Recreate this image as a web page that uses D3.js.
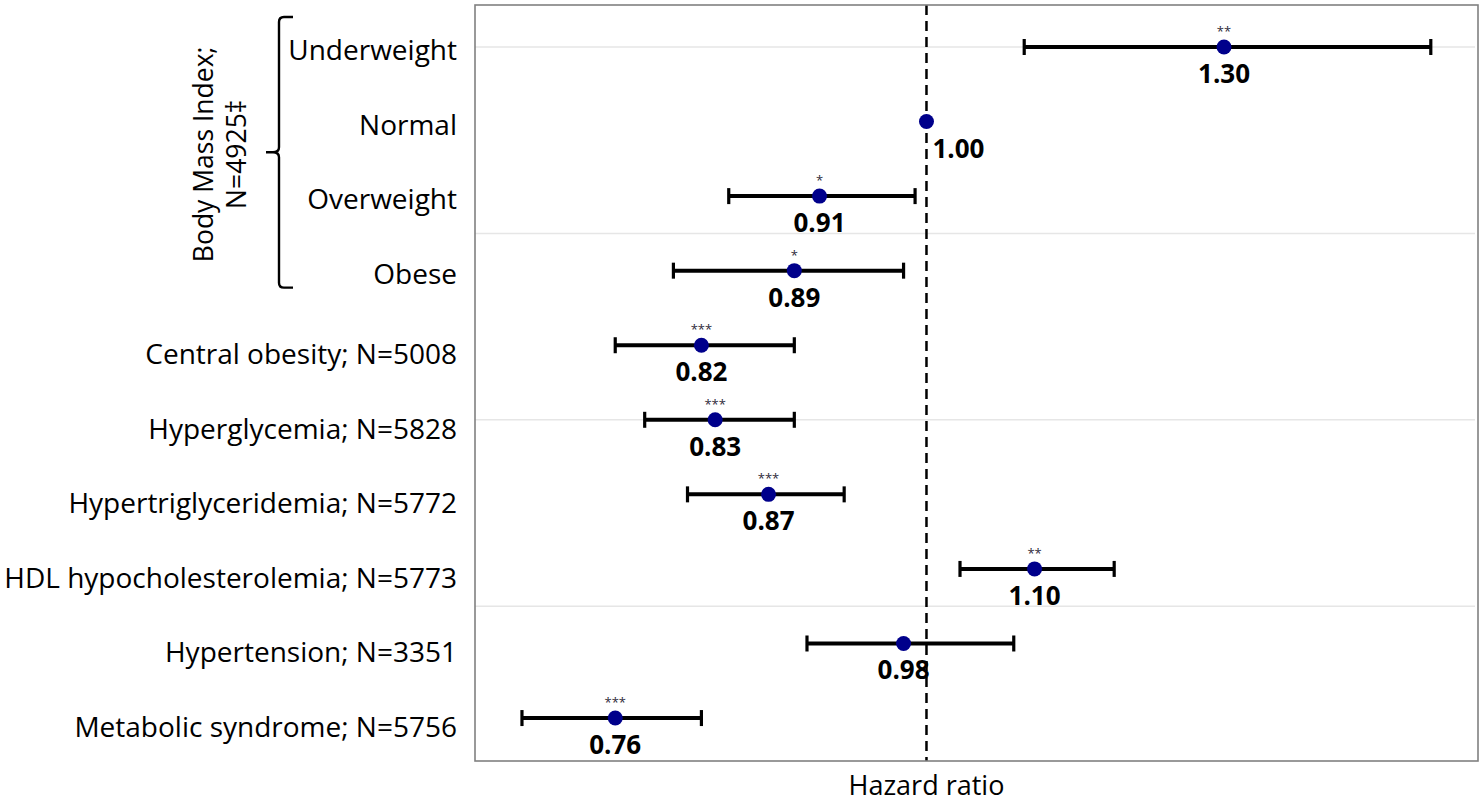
<!DOCTYPE html>
<html><head><meta charset="utf-8">
<script src="https://cdn.jsdelivr.net/npm/d3@7"></script>
<style>body{margin:0;background:#fff;overflow:hidden}</style>
</head><body><svg id="c" width="1481" height="802"></svg>
<script>
const categories = ["Underweight","Normal","Overweight","Obese","Central obesity; N=5008","Hyperglycemia; N=5828","Hypertriglyceridemia; N=5772","HDL hypocholesterolemia; N=5773","Hypertension; N=3351","Metabolic syndrome; N=5756"];
const hazardRatio = [1.30,1.00,0.91,0.89,0.82,0.83,0.87,1.10,0.98,0.76];
const ciLower = [1.09,1.00,0.84,0.80,0.76,0.78,0.81,1.03,0.90,0.70];
const ciUpper = [1.56,1.00,0.99,0.98,0.89,0.89,0.93,1.18,1.08,0.82];
const significance = ["**","","*","*","***","***","***","**","","***"];
const groupLabel = ["Body Mass Index;","N=4925\u2021"];
const groupMembers = [0,1,2,3];
const xTitle = "Hazard ratio";

const FONT = "'Open Sans', sans-serif";
const svg = d3.select("#c");
const L = 475, R = 1478, T = 5, B = 761;

const x = d3.scaleLog().domain([0.6716, 1.6263]).range([L, R]);
const y = d3.scaleLinear().domain([-0.563, 9.576]).range([T, B]);

// gridlines
svg.append("g").selectAll("line").data(d3.range(0, categories.length, 2.5)).join("line")
  .attr("x1", L).attr("x2", R - 3).attr("y1", d => y(d)).attr("y2", d => y(d))
  .attr("stroke", "#e6e6e6").attr("stroke-width", 1.5);

// reference line
svg.append("line").attr("x1", x(1)).attr("x2", x(1)).attr("y1", T).attr("y2", B)
  .attr("stroke", "#000").attr("stroke-width", 2.5).attr("stroke-dasharray", "10,6");

// frame
svg.append("rect").attr("x", L).attr("y", T).attr("width", R - L).attr("height", B - T)
  .attr("fill", "none").attr("stroke", "#808080").attr("stroke-width", 1.6);

const rows = categories.map((c, i) => ({c, i, hr: hazardRatio[i], lo: ciLower[i], hi: ciUpper[i], s: significance[i]}));
const g = svg.append("g");
const withCI = rows.filter(d => d.lo !== d.hi);
g.selectAll(".ci").data(withCI).join("line")
  .attr("x1", d => x(d.lo)).attr("x2", d => x(d.hi)).attr("y1", d => y(d.i)).attr("y2", d => y(d.i))
  .attr("stroke", "#000").attr("stroke-width", 4);
g.selectAll(".capl").data(withCI.flatMap(d => [[d.lo, d.i], [d.hi, d.i]])).join("line")
  .attr("x1", d => x(d[0])).attr("x2", d => x(d[0])).attr("y1", d => y(d[1]) - 8).attr("y2", d => y(d[1]) + 8)
  .attr("stroke", "#000").attr("stroke-width", 3.2);
g.selectAll("circle").data(rows).join("circle")
  .attr("cx", d => x(d.hr)).attr("cy", d => y(d.i)).attr("r", 7.5).attr("fill", "#00008b");

// value labels
g.selectAll(".val").data(rows).join("text")
  .attr("x", d => d.lo === d.hi ? x(d.hr) + 6 : x(d.hr))
  .attr("y", d => y(d.i) + 36)
  .attr("text-anchor", d => d.lo === d.hi ? "start" : "middle")
  .attr("font-family", FONT).attr("font-weight", "bold").attr("font-size", 26).attr("fill", "#000")
  .text(d => d.hr.toFixed(2));

// significance stars
g.selectAll(".sig").data(rows.filter(d => d.s)).join("text")
  .attr("x", d => x(d.hr)).attr("y", d => y(d.i) - 11)
  .attr("text-anchor", "middle").attr("font-family", FONT).attr("font-size", 13).attr("fill", "#2e2a3a")
  .text(d => d.s);

// category labels
svg.append("g").selectAll("text").data(rows).join("text")
  .attr("x", 457).attr("y", d => y(d.i) + (groupMembers.includes(d.i) ? 13 : 19))
  .attr("text-anchor", "end").attr("font-family", FONT).attr("font-size", 28).attr("fill", "#000")
  .text(d => d.c);

// group bracket
const gTop = y(groupMembers[0]) - 30, gBot = y(groupMembers[groupMembers.length - 1]) + 17;
const gMid = (gTop + gBot) / 2;
const bx = 279;
svg.append("path")
  .attr("d", `M${bx+14},${gTop} L${bx+5},${gTop} Q${bx},${gTop} ${bx},${gTop+5} L${bx},${gMid-5} Q${bx},${gMid} ${bx-6},${gMid} L${bx-13},${gMid} M${bx-6},${gMid} Q${bx},${gMid} ${bx},${gMid+5} L${bx},${gBot-5} Q${bx},${gBot} ${bx+5},${gBot} L${bx+14},${gBot}`)
  .attr("fill", "none").attr("stroke", "#000").attr("stroke-width", 2.4);

const gl = svg.append("text").attr("transform", `translate(0,${gMid + 2}) rotate(-90)`)
  .attr("text-anchor", "middle").attr("font-family", FONT).attr("font-size", 26.5).attr("fill", "#000");
groupLabel.forEach((t, k) => gl.append("tspan").attr("x", 0).attr("y", 213 + k * 33).text(t));

// x title
svg.append("text").attr("x", x(1)).attr("y", 795).attr("text-anchor", "middle")
  .attr("font-family", FONT).attr("font-size", 27).attr("fill", "#000").text(xTitle);
</script></body></html>
